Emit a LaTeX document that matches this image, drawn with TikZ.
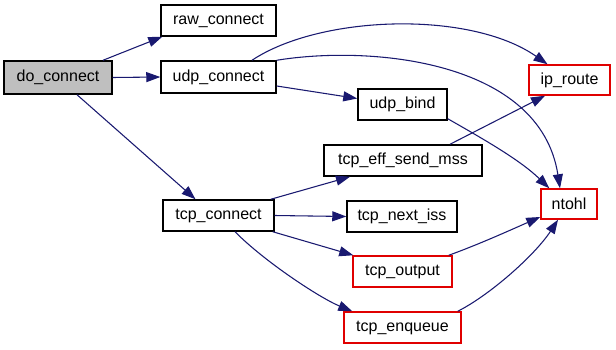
\documentclass[tikz,border=0pt]{standalone}
\usepackage{fontspec}
\setmainfont{Liberation Sans}
\usetikzlibrary{arrows.meta,calc}
\definecolor{edgeblue}{HTML}{191970}
\definecolor{rootgray}{HTML}{BFBFBF}
\definecolor{extred}{HTML}{E00000}
\begin{document}
\begin{tikzpicture}[x=0.75pt,y=-0.75pt,
  fn/.style={draw=black,line width=1.1pt,fill=white,inner sep=0pt,
    minimum height=#1*0.75pt,font=\fontsize{12}{14}\selectfont,text=black},
  fn/.default=31,
  wd/.style={minimum width=#1*0.75pt},
  ext/.style={draw=extred},
  root/.style={fill=rootgray},
  call/.style={draw=edgeblue,line width=0.8pt,
    -{Triangle[length=10.5pt,width=7.5pt]},fill=none}]
\useasboundingbox (0,0) rectangle (616,349);
\fill[white] (0,0) rectangle (616,349);

% functions
\node[fn=33,wd=108,root] (do_connect) at (58,77.5) {do\_connect};
\node[fn,wd=115] (raw_connect) at (218.5,20.5) {raw\_connect};
\node[fn=32,wd=115] (udp_connect) at (218.5,77) {udp\_connect};
\node[fn=30,wd=81,ext] (ip_route) at (569.5,80) {ip\_route};
\node[fn,wd=89] (udp_bind) at (402.5,104.5) {udp\_bind};
\node[fn,wd=158] (tcp_eff_send_mss) at (403,160.5) {tcp\_eff\_send\_mss};
\node[fn,wd=111] (tcp_connect) at (218.5,215.5) {tcp\_connect};
\node[fn,wd=110] (tcp_next_iss) at (402,216.5) {tcp\_next\_iss};
\node[fn=30,wd=56,ext] (ntohl) at (569,204) {ntohl};
\node[fn,wd=99,ext] (tcp_output) at (402.5,271.5) {tcp\_output};
\node[fn,wd=117,ext] (tcp_enqueue) at (402.5,327.5) {tcp\_enqueue};

% calls from do_connect
\draw[call] ($(do_connect.north)+(45,0)$) -- ($(raw_connect.south west)+(2,0)$);
\draw[call] (do_connect.east) -- (udp_connect.west);
\draw[call] ($(do_connect.south)+(19,0)$) -- ($(tcp_connect.north)+(-23,0)$);

% calls from udp_connect
\draw[call] ($(udp_connect.north)+(33.5,0)$) .. controls (320,15) and (470,10) .. ($(ip_route.north)+(-22,0)$);
\draw[call] (udp_connect.north east) .. controls (370,45) and (540,60) .. ($(ntohl.north)+(-9,0)$);
\draw[call] ($(udp_connect.east)+(0,9)$) -- ($(udp_bind.west)+(0,-6)$);

% calls from udp_bind and tcp_eff_send_mss
\draw[call] ($(udp_bind.south east)+(0,-2)$) .. controls (485,140) and (520,160) .. ($(ntohl.north west)+(9,0)$);
\draw[call] ($(tcp_eff_send_mss.north)+(47,0)$) -- ($(ip_route.south)+(-24.5,0)$);

% calls from tcp_connect
\draw[call] ($(tcp_connect.north east)+(-4,0)$) -- ($(tcp_eff_send_mss.south)+(-53,0)$);
\draw[call] (tcp_connect.east) -- (tcp_next_iss.west);
\draw[call] ($(tcp_connect.south east)+(-2,0)$) -- ($(tcp_output.north west)+(1,0)$);
\draw[call] ($(tcp_connect.south)+(16.5,0)$) .. controls (265,262) and (320,298) .. ($(tcp_enqueue.north west)+(9,0)$);

% calls into ntohl from tcp_output and tcp_enqueue
\draw[call] ($(tcp_output.north east)+(-4,0)$) .. controls (480,244) and (515,228) .. ($(ntohl.west)+(0,13)$);
\draw[call] ($(tcp_enqueue.north east)+(-4,0)$) .. controls (490,295) and (535,255) .. ($(ntohl.south)+(-11,0)$);
\end{tikzpicture}
\end{document}
